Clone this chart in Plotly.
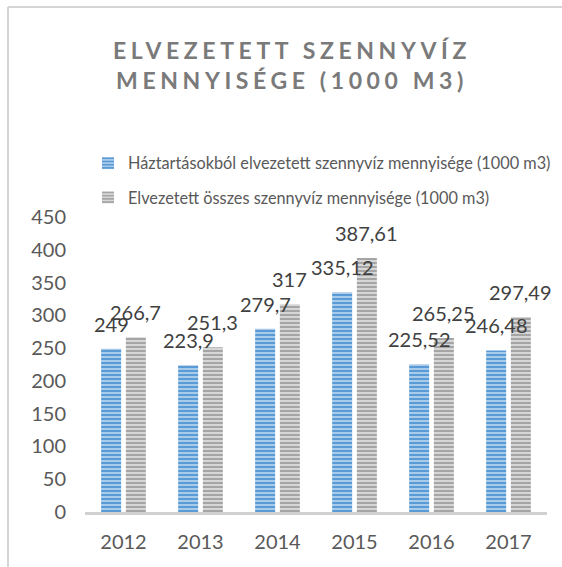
import plotly.graph_objects as go

# --- data ---------------------------------------------------------------
years = ["2012", "2013", "2014", "2015", "2016", "2017"]
household = [249, 223.9, 279.7, 335.12, 225.52, 246.48]
total = [266.7, 251.3, 317, 387.61, 265.25, 297.49]
series_names = [
    "Háztartásokból elvezetett szennyvíz mennyisége (1000 m3)",
    "Elvezetett összes szennyvíz mennyisége (1000 m3)",
]
y_ticks = [0, 50, 100, 150, 200, 250, 300, 350, 400, 450]

# --- layout constants ---------------------------------------------------
W, H = 562, 567
ML, MR, MT, MB = 85, 15, 217, 55
FONT = "Lato"
LABEL_SHIFT = 12.35  # half the centre distance of the two bars in a group


def hu(v):
    """Hungarian decimal comma."""
    return f"{v:g}".replace(".", ",")


styles = [
    dict(fg="#5b9bd5", bg="#a9cbeb"),
    dict(fg="#a5a5a5", bg="#d6d6d6"),
]

fig = go.Figure()
for i, (name, vals) in enumerate(zip(series_names, [household, total])):
    st = styles[i]
    fig.add_trace(
        go.Bar(
            x=years,
            y=vals,
            name=name,
            legendgroup=f"g{i}",
            marker=dict(
                color=st["fg"],
                line=dict(width=0),
                pattern=dict(
                    shape="-",
                    fgcolor=st["fg"],
                    bgcolor=st["bg"],
                    size=4,
                    solidity=0.5,
                    fillmode="replace",
                ),
            ),
            hoverinfo="skip",
        )
    )

# value labels above each bar (x given as the category's serial number)
annotations = []
for i, vals in enumerate([household, total]):
    shift = -LABEL_SHIFT if i == 0 else LABEL_SHIFT
    for j, v in enumerate(vals):
        annotations.append(
            dict(
                x=j,
                y=v,
                xref="x",
                yref="y",
                text=hu(v),
                showarrow=False,
                xshift=shift,
                yanchor="bottom",
                yshift=11,
                font=dict(family=FONT, size=20, color="#404040"),
            )
        )

# chart frame (left and top edges)
pw = W - ML - MR
ph = H - MT - MB
def px_x(p):
    return (p - ML) / pw
def px_y(p):
    return (H - MB - p) / ph

shapes = [
    dict(type="line", xref="paper", yref="paper", layer="above",
         x0=px_x(8), x1=px_x(8), y0=px_y(7), y1=px_y(H + 5),
         line=dict(color="#d4d4d4", width=2)),
    dict(type="line", xref="paper", yref="paper", layer="above",
         x0=px_x(8), x1=px_x(W + 5), y0=px_y(7), y1=px_y(7),
         line=dict(color="#d4d4d4", width=2)),
]

title_txt = (
    '<span style="letter-spacing:4.6px">ELVEZETETT SZENNYVÍZ</span><br>'
    '<span style="letter-spacing:4.6px">MENNYISÉGE (1000 M3)</span>'
)

fig.update_layout(
    width=W,
    height=H,
    margin=dict(l=ML, r=MR, t=MT, b=MB, pad=0, autoexpand=False),
    paper_bgcolor="white",
    plot_bgcolor="white",
    barmode="group",
    bargap=0.358,
    bargroupgap=0.19,
    showlegend=True,
    title=dict(
        text=title_txt,
        xref="container",
        yref="container",
        x=292 / W,
        xanchor="center",
        y=1 - 59 / H,
        yanchor="top",
        font=dict(family=FONT, size=23, color="#7a7a7a", weight="bold"),
    ),
    legend=dict(
        orientation="v",
        xref="container",
        yref="container",
        x=88 / W,
        xanchor="left",
        y=1 - 146 / H,
        yanchor="top",
        font=dict(family=FONT, size=16.3, color="#595959"),
        tracegroupgap=10,
        itemwidth=30,
        bgcolor="rgba(0,0,0,0)",
    ),
    xaxis=dict(
        type="category",
        range=[-0.5, len(years) - 0.5],
        showgrid=False,
        showline=True,
        linecolor="#d0d0d0",
        linewidth=3,
        ticks="",
        tickfont=dict(family=FONT, size=20, color="#595959"),
        ticklabelstandoff=10,
        zeroline=False,
    ),
    yaxis=dict(
        range=[0, 450],
        tickvals=y_ticks,
        ticktext=[str(t) for t in y_ticks],
        showgrid=False,
        showline=False,
        zeroline=False,
        ticks="",
        tickfont=dict(family=FONT, size=20, color="#595959"),
        ticklabelstandoff=18,
    ),
    annotations=annotations,
    shapes=shapes,
)

fig.write_html("out.html")
